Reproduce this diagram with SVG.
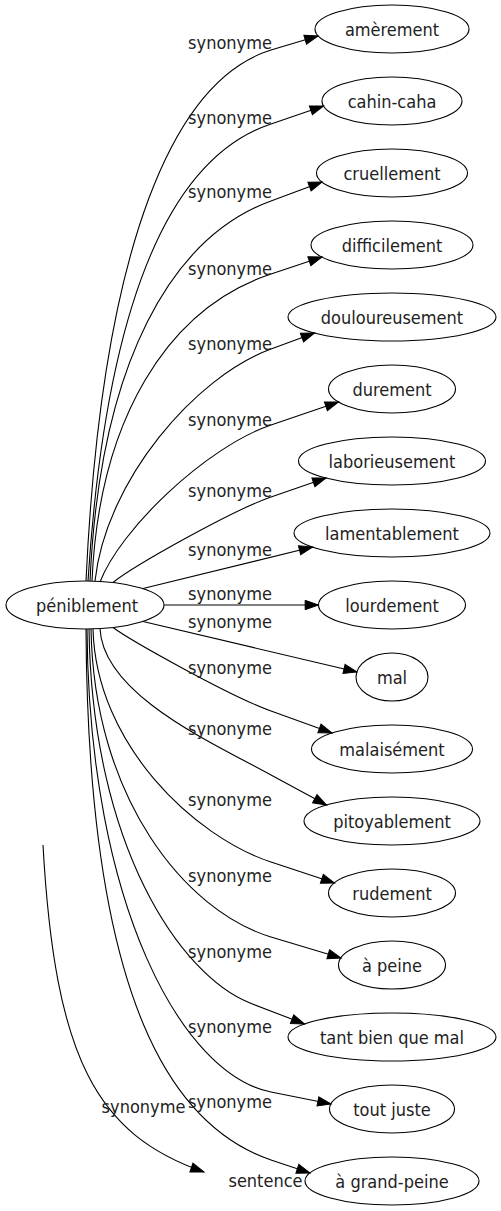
<svg xmlns="http://www.w3.org/2000/svg" width="501" height="1211" viewBox="0 0 501 1211">
<style>
  .n ellipse{fill:none;stroke:#000;stroke-width:1.1}
  text{font-family:"DejaVu Sans Condensed","DejaVu Sans",sans-serif;font-stretch:condensed;font-size:18px;fill:#222;text-anchor:middle}
  .e path{fill:none;stroke:#000;stroke-width:1.1;marker-end:url(#arr)}
</style>
<defs>
  <marker id="arr" markerUnits="userSpaceOnUse" markerWidth="16" markerHeight="12" viewBox="-1 -6 16 12" refX="13.33" refY="0" orient="auto" overflow="visible">
    <path d="M0,-4.67 L13.33,0 L0,4.67 Z" fill="#000" stroke="#000" stroke-width="1"/>
  </marker>
</defs>
<rect width="501" height="1211" fill="#fff"/>
<g id="connectors" class="e">
  <g id="e1"><path d="M86,581 C102,240 175.5,79.7 271,50 L318,36"/><text x="230" y="49">synonyme</text></g>
  <g id="e2"><path d="M88,581 C106,300 171.3,157.2 271,124 L323.5,106"/><text x="230" y="124">synonyme</text></g>
  <g id="e3"><path d="M90,581 C100,361 172.4,237 271,201 L322,182"/><text x="230" y="198">synonyme</text></g>
  <g id="e4"><path d="M92,581 C99,420 166.7,308.8 271,274 L322,257"/><text x="230" y="275">synonyme</text></g>
  <g id="e5"><path d="M95,581 C106,480 195.8,376.4 271,349 L314.5,333"/><text x="230" y="350">synonyme</text></g>
  <g id="e6"><path d="M100,582 C120,530 204.8,447.8 271,425 L338.5,402"/><text x="230" y="426">synonyme</text></g>
  <g id="e7"><path d="M113,582.5 C135,565 233.2,510 271,497 L326,478"/><text x="230" y="497">synonyme</text></g>
  <g id="e8"><path d="M143,588.5 L312.5,547"/><text x="230" y="556">synonyme</text></g>
  <g id="e9"><path d="M164,605 L318.5,605"/><text x="230" y="600">synonyme</text></g>
  <g id="e10"><path d="M143,621.5 L357,672"/><text x="230" y="628">synonyme</text></g>
  <g id="e11"><path d="M113,627.5 C130,640 228.7,695.7 271,711 L332,733"/><text x="230" y="674">synonyme</text></g>
  <g id="e12"><path d="M100,628.5 C103,694 209.5,741.5 271,775 L326.5,805"/><text x="230" y="735">synonyme</text></g>
  <g id="e13"><path d="M93,629 C96,745 195,837 271,862 L334.5,883"/><text x="230" y="806">synonyme</text></g>
  <g id="e14"><path d="M91,629 C94,798 184.9,910.8 271,937 L341,958"/><text x="230" y="882">synonyme</text></g>
  <g id="e15"><path d="M89,629 C92,846 180.3,975.4 250,1003 L304.5,1024"/><text x="230" y="958">synonyme</text></g>
  <g id="e16"><path d="M87,629 C89,907 182.8,1074.4 271,1092 L331,1104"/><text x="230" y="1033">synonyme</text></g>
  <g id="e17"><path d="M86,629 C88,1010 176.5,1127.7 271,1160 L310,1173"/><text x="230" y="1108">synonyme</text></g>
  <g id="e18"><path d="M43,845 C55,1060 97,1134.6 204,1172"/><text x="143.5" y="1113">synonyme</text></g>
</g>
<g id="n0" class="n"><ellipse cx="85" cy="605" rx="79" ry="24"/><text x="87" y="611.5">péniblement</text></g>
<g id="n1" class="n"><ellipse cx="392" cy="29" rx="77" ry="24"/><text x="392" y="35.5">amèrement</text></g>
<g id="n2" class="n"><ellipse cx="392" cy="101" rx="70" ry="24"/><text x="392" y="107.5">cahin-caha</text></g>
<g id="n3" class="n"><ellipse cx="392" cy="173" rx="75.5" ry="24"/><text x="392" y="179.5">cruellement</text></g>
<g id="n4" class="n"><ellipse cx="392" cy="245" rx="81" ry="24"/><text x="392" y="251.5">difficilement</text></g>
<g id="n5" class="n"><ellipse cx="392" cy="317" rx="104" ry="24"/><text x="392" y="323.5">douloureusement</text></g>
<g id="n6" class="n"><ellipse cx="392" cy="389" rx="63.5" ry="24"/><text x="392" y="395.5">durement</text></g>
<g id="n7" class="n"><ellipse cx="392" cy="461" rx="93.5" ry="24"/><text x="392" y="467.5">laborieusement</text></g>
<g id="n8" class="n"><ellipse cx="392" cy="533" rx="98" ry="24"/><text x="392" y="539.5">lamentablement</text></g>
<g id="n9" class="n"><ellipse cx="392" cy="605" rx="73.5" ry="24"/><text x="392" y="611.5">lourdement</text></g>
<g id="n10" class="n"><ellipse cx="392" cy="677" rx="36" ry="24"/><text x="392" y="683.5">mal</text></g>
<g id="n11" class="n"><ellipse cx="392" cy="749" rx="80.5" ry="24"/><text x="392" y="755.5">malaisément</text></g>
<g id="n12" class="n"><ellipse cx="392" cy="821" rx="88" ry="24"/><text x="392" y="827.5">pitoyablement</text></g>
<g id="n13" class="n"><ellipse cx="392" cy="893" rx="63.5" ry="24"/><text x="392" y="899.5">rudement</text></g>
<g id="n14" class="n"><ellipse cx="392" cy="965" rx="53.5" ry="24"/><text x="392" y="971.5">à peine</text></g>
<g id="n15" class="n"><ellipse cx="392" cy="1037" rx="104" ry="24"/><text x="392" y="1043.5">tant bien que mal</text></g>
<g id="n16" class="n"><ellipse cx="392" cy="1109" rx="62.5" ry="24"/><text x="392" y="1115.5">tout juste</text></g>
<g id="n17" class="n"><ellipse cx="392" cy="1181" rx="87" ry="24"/><text x="392" y="1187.5">à grand-peine</text></g>
<g id="n18" class="n"><text x="265.5" y="1187">sentence</text></g>
</svg>
